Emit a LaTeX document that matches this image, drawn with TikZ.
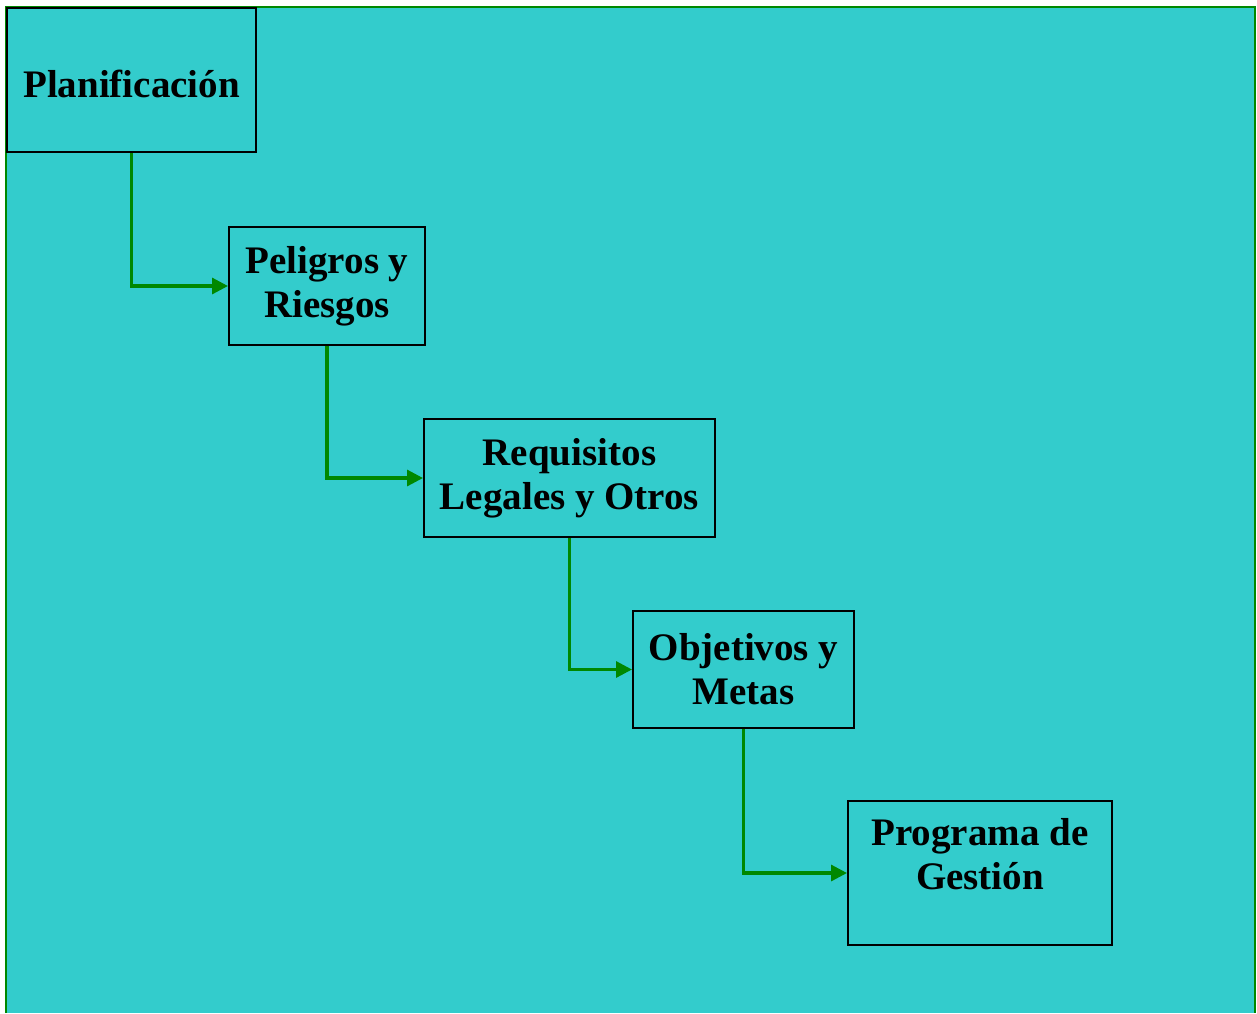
\documentclass[tikz,border=0pt]{standalone}
\usepackage{fontspec}
\setmainfont{Liberation Serif}
\usetikzlibrary{arrows.meta, positioning}
\definecolor{sheetteal}{RGB}{51, 204, 204}
\definecolor{flowgreen}{RGB}{0, 136, 0}
\tikzset{
  stepbox/.style={draw=black, line width=1pt, fill=sheetteal, rectangle, inner sep=0pt,
    align=center, font=\fontsize{19.5}{22}\selectfont\bfseries},
  flow/.style={draw=flowgreen, line width=1.6pt, -{Triangle[length=8pt, width=8pt]}}
}

\begin{document}
\begin{tikzpicture}[x=0.5pt, y=-0.5pt]
  \useasboundingbox (0,0) rectangle (1257,1013);

  % Sheet
  \fill[sheetteal] (6,7) rectangle (1256,1013);
  \draw[flowgreen, line width=0.8pt] (6,1013) -- (6,7) -- (1255,7) -- (1255,1013);

  % Steps
  \node[stepbox, minimum width=124.5pt, minimum height=72pt, text height=21pt, text depth=4pt] (plan) at (131.5, 80) {Planificación};
  \node[stepbox, minimum width=98pt, minimum height=59pt] (risk) at (327, 286) {Peligros y\\Riesgos};
  \node[stepbox, minimum width=145.5pt, minimum height=59pt] (legal) at (569.5, 478) {Requisitos\\Legales y Otros};
  \node[stepbox, minimum width=110.5pt, minimum height=58.5pt] (goal) at (743.5, 669.5) {Objetivos y\\Metas};
  \node[stepbox, minimum width=132pt, minimum height=72pt] (prog) at (980, 873) {Programa de\\Gestión\\[-3pt]\mbox{}};

  % Connectors
  \draw[flow] (plan.south) |- (risk.west);
  \draw[flow] (risk.south) |- (legal.west);
  \draw[flow] (legal.south) |- (goal.west);
  \draw[flow] (goal.south) |- (prog.west);
\end{tikzpicture}
\end{document}
